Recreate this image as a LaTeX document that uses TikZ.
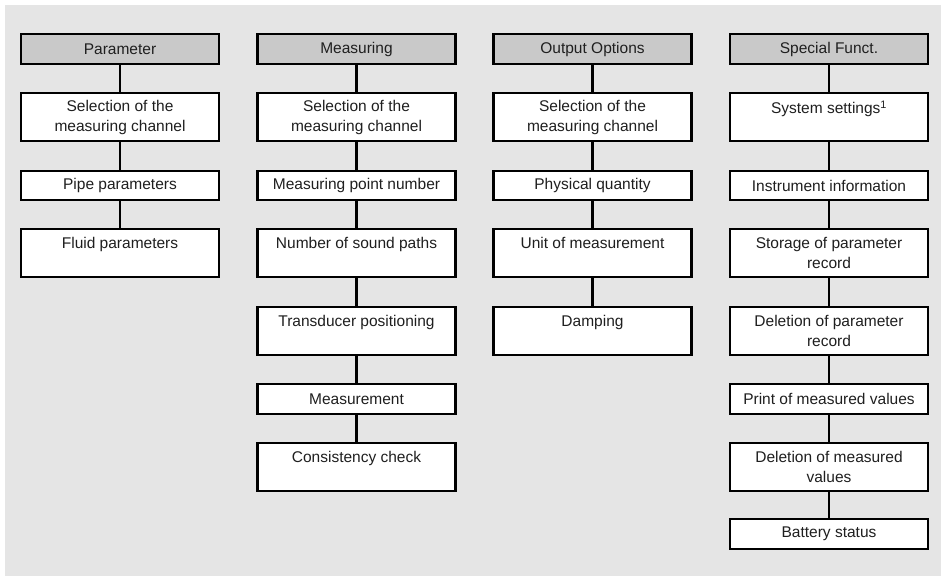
\documentclass[tikz,border=0pt]{standalone}
\usepackage{fontspec}
\setmainfont{Liberation Sans}
\begin{document}
\begin{tikzpicture}[x=1pt,y=-1pt,
  every node/.style={font=\fontsize{15.5}{20}\selectfont},
  basebox/.style={draw=black, line width=2.4pt, minimum width=198pt, inner sep=0pt, align=center, text=black!88},
  headbox/.style={basebox, fill=black!21, minimum height=30pt},
  tallbox/.style={basebox, fill=white, minimum height=48pt},
  shortbox/.style={basebox, fill=white, minimum height=29.5pt},
  link/.style={draw=black, line width=2.2pt}]
\useasboundingbox (0,0) rectangle (941,576);
\fill[white] (0,0) rectangle (941,576);
\fill[black!10] (5,5) rectangle (941,576);
% column 1
\node[headbox] (a0) at (120,49) {Parameter};
\node[tallbox] (a1) at (120,117) {Selection of the\\measuring channel};
\node[shortbox] (a2) at (120,185.5) {Pipe parameters};
\node[tallbox] (a3) at (120,253) {Fluid parameters\\\mbox{}};
% column 2
\node[headbox] (b0) at (356.5,49) {Measuring};
\node[tallbox] (b1) at (356.5,117) {Selection of the\\measuring channel};
\node[shortbox] (b2) at (356.5,185.5) {Measuring point number};
\node[tallbox] (b3) at (356.5,253) {Number of sound paths\\\mbox{}};
\node[tallbox] (b4) at (356.5,331) {Transducer positioning\\\mbox{}};
\node[shortbox] (b5) at (356.5,399) {Measurement};
\node[tallbox] (b6) at (356.5,467) {Consistency check\\\mbox{}};
% column 3
\node[headbox] (c0) at (592.5,49) {Output Options};
\node[tallbox] (c1) at (592.5,117) {Selection of the\\measuring channel};
\node[shortbox] (c2) at (592.5,185.5) {Physical quantity};
\node[tallbox] (c3) at (592.5,253) {Unit of measurement\\\mbox{}};
\node[tallbox] (c4) at (592.5,331) {Damping\\\mbox{}};
% column 4
\node[headbox] (d0) at (829,49) {Special Funct.};
\node[tallbox] (d1) at (829,117) {System settings\textsuperscript{1}\\\mbox{}};
\node[shortbox] (d2) at (829,185.5) {Instrument information};
\node[tallbox] (d3) at (829,253) {Storage of parameter\\record};
\node[tallbox] (d4) at (829,331) {Deletion of parameter\\record};
\node[shortbox] (d5) at (829,399) {Print of measured values};
\node[tallbox] (d6) at (829,467) {Deletion of measured\\values};
\node[shortbox] (d7) at (829,534) {Battery status};
% connectors
\foreach \u/\v in {a0/a1,a1/a2,a2/a3,
  b0/b1,b1/b2,b2/b3,b3/b4,b4/b5,b5/b6,
  c0/c1,c1/c2,c2/c3,c3/c4,
  d0/d1,d1/d2,d2/d3,d3/d4,d4/d5,d5/d6,d6/d7}
  \draw[link] (\u.south) -- (\v.north);
\end{tikzpicture}
\end{document}
